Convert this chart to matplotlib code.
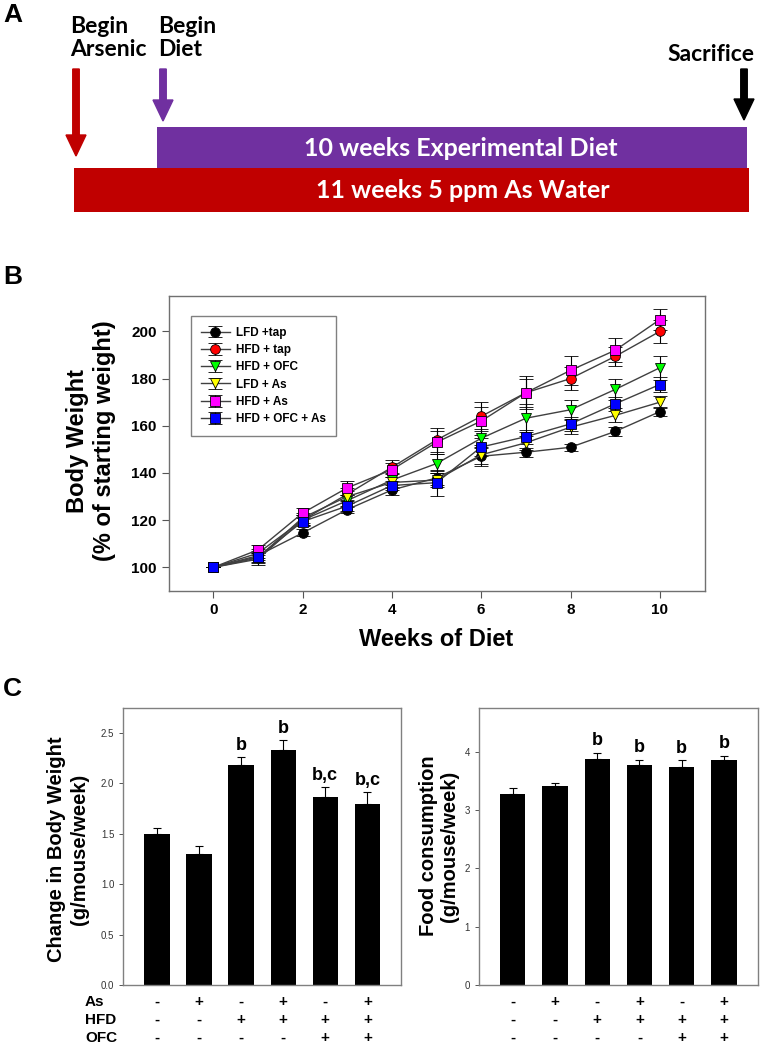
import matplotlib
matplotlib.use("Agg")
import matplotlib.pyplot as plt
import matplotlib.patches as mpatches

plt.rcParams['font.family'] = ['Liberation Sans', 'DejaVu Sans']

# ---- panel A: study timeline (schematic)
event_labels = ["Begin\nArsenic", "Begin\nDiet", "Sacrifice"]
event_colors = ["#C00000", "#7030A0", "#000000"]
bar_labels = ["10 weeks Experimental Diet", "11 weeks 5 ppm As Water"]
bar_colors = ["#7030A0", "#C00000"]

# ---- panel B: body weight, % of starting weight
weeks = [0, 1, 2, 3, 4, 5, 6, 7, 8, 9, 10]
groups = ["LFD +tap", "HFD + tap", "HFD + OFC", "LFD + As", "HFD + As", "HFD + OFC + As"]
lfd_tap = [100, 105, 114.6, 124.5, 132.8, 137.9, 147.1, 148.8, 150.9, 157.6, 166]
hfd_tap = [100, 106, 120, 131, 142.4, 154, 164, 174, 180, 189.4, 200]
hfd_ofc = [100, 103.5, 120, 128.3, 137, 144, 154.7, 163.2, 166.8, 175.4, 184.6]
lfd_as = [100, 104, 121, 130, 136, 137, 147.7, 152.8, 159.4, 164.4, 170]
hfd_as = [100, 107.4, 123, 133.7, 141.4, 153, 162, 174, 183.5, 192, 205]
hfd_ofc_as = [100, 104.5, 119.4, 126, 134.7, 135.9, 151, 155.4, 160.8, 169.3, 177.5]
lfd_tap_err = [0, 2, 1.5, 1.5, 2, 3, 4, 2, 1.5, 2, 2]
hfd_tap_err = [0, 2, 2, 2.5, 3, 5, 6, 6, 5, 4, 5]
hfd_ofc_err = [0, 2.5, 2, 2.5, 3, 4, 4, 6, 4, 4.5, 5]
lfd_as_err = [0, 2, 2, 2.5, 2.5, 3, 4, 3, 3, 3, 2.5]
hfd_as_err = [0, 2, 2, 3, 3, 5, 6, 7, 6, 5, 4.5]
hfd_ofc_as_err = [0, 2, 2, 2, 2, 5.5, 4, 3, 3, 3, 3]
series = [lfd_tap, hfd_tap, hfd_ofc, lfd_as, hfd_as, hfd_ofc_as]
series_err = [lfd_tap_err, hfd_tap_err, hfd_ofc_err, lfd_as_err, hfd_as_err, hfd_ofc_as_err]
colors = ["#000000", "#FF0000", "#00FF00", "#FFFF00", "#FF00FF", "#0000FF"]
markers = ["o", "o", "v", "v", "s", "s"]

# ---- panel C: bar charts
as_row = ["-", "+", "-", "+", "-", "+"]
hfd_row = ["-", "-", "+", "+", "+", "+"]
ofc_row = ["-", "-", "-", "-", "+", "+"]
bw_change = [1.50, 1.30, 2.18, 2.33, 1.87, 1.80]
bw_change_err = [0.055, 0.08, 0.08, 0.10, 0.09, 0.11]
bw_letters = ["", "", "b", "b", "b,c", "b,c"]
food = [3.28, 3.41, 3.87, 3.77, 3.73, 3.86]
food_err = [0.09, 0.06, 0.11, 0.09, 0.12, 0.07]
food_letters = ["", "", "b", "b", "b", "b"]

fig = plt.figure(figsize=(7.83, 10.5), dpi=100)

# panel labels
fig.text(0.004, 0.997, "A", fontsize=19, fontweight="bold", va="top")
fig.text(0.004, 0.748, "B", fontsize=19, fontweight="bold", va="top")
fig.text(0.004, 0.355, "C", fontsize=19, fontweight="bold", va="top")

# ================= panel A
axA = fig.add_axes([0, 1 - 231 / 1050, 1, 231 / 1050])
axA.set_xlim(0, 783)
axA.set_ylim(231, 0)
axA.axis("off")
axA.add_patch(mpatches.Rectangle((157, 127), 590, 41, facecolor=bar_colors[0], edgecolor="none"))
axA.add_patch(mpatches.Rectangle((74, 168), 675, 44, facecolor=bar_colors[1], edgecolor="none"))
axA.text(461, 148, bar_labels[0], color="white", fontsize=18, fontweight="bold",
         family="Lato", ha="center", va="center")
axA.text(463, 190, bar_labels[1], color="white", fontsize=18, fontweight="bold",
         family="Lato", ha="center", va="center")
arrow_x = [76, 163, 744]
arrow_tip = [156, 121, 120]
for x, tip, c in zip(arrow_x, arrow_tip, event_colors):
    axA.arrow(x, 69, 0, tip - 69, width=6.5, head_width=20, head_length=21,
              length_includes_head=True, color=c)
axA.text(70, 16, event_labels[0], fontsize=16.5, fontweight="bold", family="Lato",
         ha="left", va="top", linespacing=1.1)
axA.text(158, 16, event_labels[1], fontsize=16.5, fontweight="bold", family="Lato",
         ha="left", va="top", linespacing=1.1)
axA.text(754, 44, event_labels[2], fontsize=16.5, fontweight="bold", family="Lato",
         ha="right", va="top")

# ================= panel B
axB = fig.add_axes([168.5 / 783, 1 - 591 / 1050, 536 / 783, 295 / 1050])
for vals, errs, c, m, lab in zip(series, series_err, colors, markers, groups):
    axB.errorbar(weeks, vals, yerr=errs, color="#404040", lw=1, ecolor="black",
                 elinewidth=0.8, capsize=5, capthick=0.8, marker=m, markersize=7,
                 markerfacecolor=c, markeredgecolor="black", markeredgewidth=0.6, label=lab)
axB.set_xlim(-1, 11)
axB.set_ylim(90, 215)
axB.set_xticks([0, 2, 4, 6, 8, 10])
axB.set_yticks([100, 120, 140, 160, 180, 200])
axB.tick_params(direction="out", length=5, width=0.8, labelsize=11, color="#555555")
for t in axB.get_xticklabels() + axB.get_yticklabels():
    t.set_fontweight("bold")
for s in axB.spines.values():
    s.set_color("#707070")
    s.set_linewidth(1)
axB.set_xlabel("Weeks of Diet", fontsize=17, fontweight="bold", labelpad=8)
fig.text(91 / 783, 1 - 441 / 1050, "Body Weight\n(% of starting weight)", fontsize=17,
         fontweight="bold", rotation=90, ha="center", va="center", multialignment="center")
leg = axB.legend(loc="upper left", bbox_to_anchor=(0.0414, 0.932), borderaxespad=0,
                 fancybox=False, edgecolor="#606060", fontsize=8.5, handlelength=2.4,
                 labelspacing=0.45, borderpad=0.9, handletextpad=0.5)
leg.get_frame().set_linewidth(1)
for t in leg.get_texts():
    t.set_fontweight("bold")

# ================= panel C
def bar_panel(ax, vals, errs, letters, ylim, yticks, fmt):
    xs = list(range(len(vals)))
    ax.bar(xs, vals, width=0.6, color="black")
    ax.errorbar(xs, vals, yerr=[[0] * len(errs), errs], fmt="none", ecolor="black",
                elinewidth=0.8, capsize=3, capthick=0.8)
    for x, v, e, l in zip(xs, vals, errs, letters):
        if l:
            ax.text(x, v + e + ylim * 0.012, l, ha="center", va="bottom",
                    fontsize=13, fontweight="bold")
    ax.set_xlim(-0.8, 5.8)
    ax.set_ylim(0, ylim)
    ax.set_yticks(yticks)
    ax.set_yticklabels([fmt.format(t) for t in yticks])
    ax.set_xticks([])
    ax.tick_params(axis="y", direction="out", length=3, width=0.7, labelsize=7,
                   labelcolor="#333333", color="#555555")
    for s in ax.spines.values():
        s.set_color("#808080")
        s.set_linewidth(1)
    tr = ax.get_xaxis_transform()
    for row, yy in zip([as_row, hfd_row, ofc_row], [-0.06, -0.125, -0.19]):
        for x, sgn in zip(xs, row):
            ax.text(x, yy, sgn, transform=tr, ha="center", va="center",
                    fontsize=11, fontweight="bold")


axC1 = fig.add_axes([123.3 / 783, 1 - 985.3 / 1050, 277.7 / 783, 277.6 / 1050])
bar_panel(axC1, bw_change, bw_change_err, bw_letters, 2.75,
          [0, 0.5, 1.0, 1.5, 2.0, 2.5], "{:.1f}")
fig.text(68 / 783, 1 - 849 / 1050, "Change in Body Weight\n(g/mouse/week)", fontsize=14.5,
         fontweight="bold", rotation=90, ha="center", va="center", multialignment="center")
for lab, yy in zip(["As", "HFD", "OFC"], [1002, 1020, 1038]):
    fig.text(85 / 783, 1 - yy / 1050, lab, fontsize=11, fontweight="bold",
             ha="left", va="center")

axC2 = fig.add_axes([479 / 783, 1 - 985.3 / 1050, 278.7 / 783, 277.6 / 1050])
bar_panel(axC2, food, food_err, food_letters, 4.75, [0, 1, 2, 3, 4], "{:d}")
fig.text(439 / 783, 1 - 846 / 1050, "Food consumption\n(g/mouse/week)", fontsize=14.5,
         fontweight="bold", rotation=90, ha="center", va="center", multialignment="center")

fig.savefig("out.png", dpi=100)
